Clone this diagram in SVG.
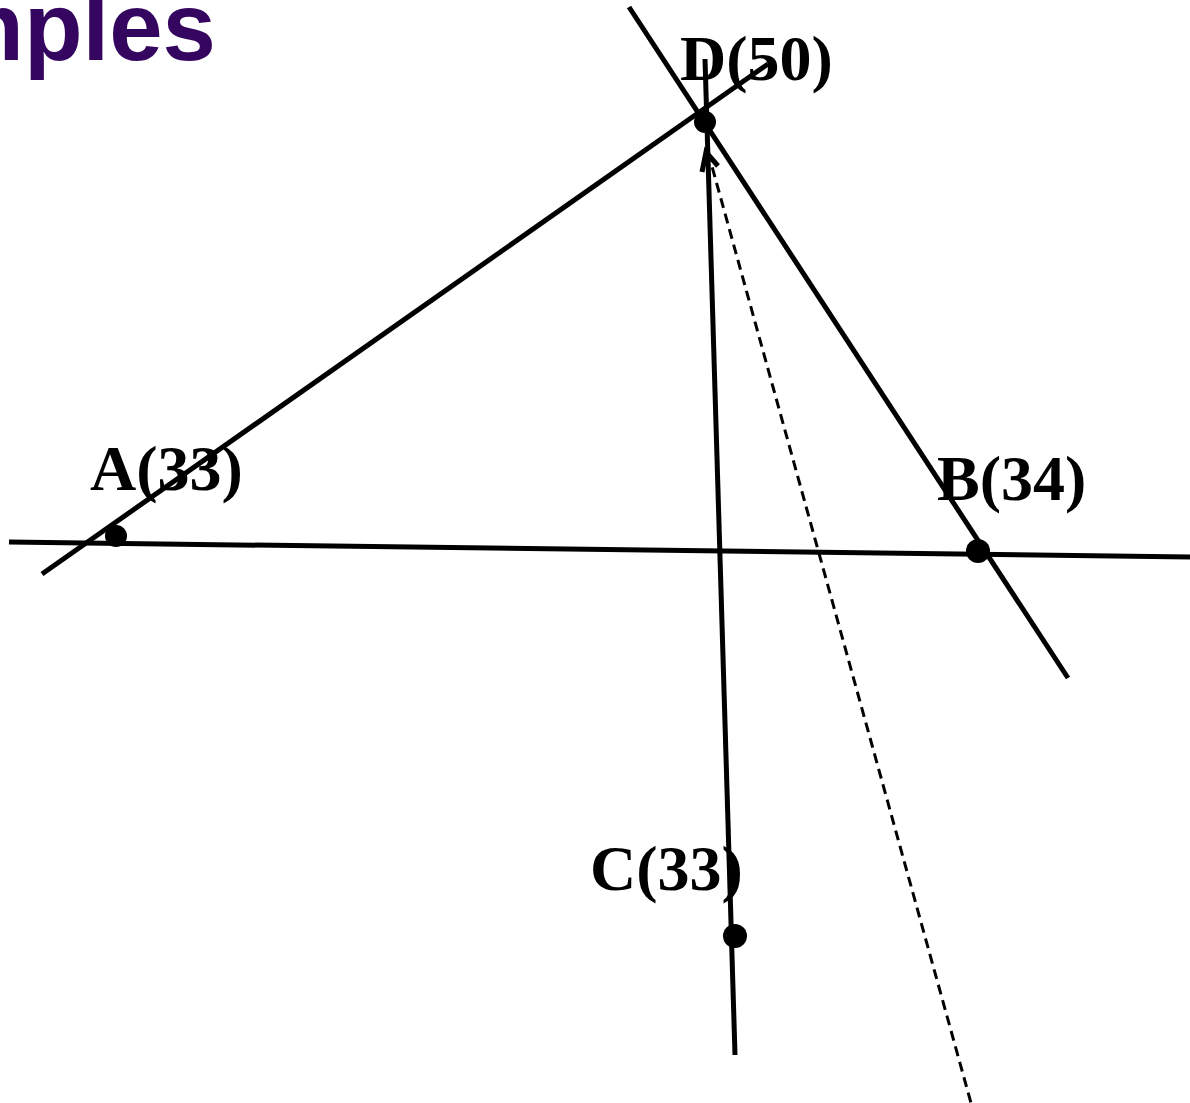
<svg xmlns="http://www.w3.org/2000/svg" width="1190" height="1103" viewBox="0 0 1190 1103">
<style>
.ln{stroke:#000;stroke-width:5;fill:none}
.ds{stroke:#000;stroke-width:3;fill:none;stroke-dasharray:10 6}
.lbl{font-family:"Liberation Serif","Times New Roman",serif;font-weight:bold;font-size:64px;fill:#000}
.title{font-family:"Liberation Sans",Arial,sans-serif;font-weight:bold;font-size:96px;fill:#340660}
</style>
<rect width="1190" height="1103" fill="#fff"/>
<text class="title" x="216" y="60" text-anchor="end">Examples</text>
<g id="connectors">
<line class="ln" x1="42" y1="574" x2="768" y2="64"/>
<line class="ln" x1="629" y1="7" x2="1068" y2="678"/>
<line class="ln" x1="9" y1="542" x2="1190" y2="557"/>
<line class="ln" x1="705" y1="59" x2="735" y2="1055"/>
<line class="ds" x1="708" y1="152" x2="971" y2="1103"/>
<polyline class="ln" points="702,172 706,152 718,166" stroke-width="3.5"/>
</g>
<g id="D"><circle cx="705" cy="122" r="11"/><text class="lbl" x="680" y="80">D(50)</text></g>
<g id="A"><circle cx="116" cy="536" r="11"/><text class="lbl" x="90" y="490">A(33)</text></g>
<g id="B"><circle cx="978" cy="551" r="12"/><text class="lbl" x="937" y="500">B(34)</text></g>
<g id="C"><circle cx="735" cy="936" r="12"/><text class="lbl" x="590" y="890">C(33)</text></g>
</svg>
